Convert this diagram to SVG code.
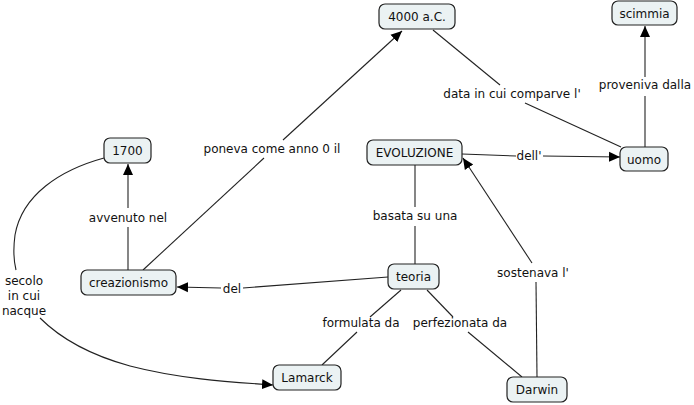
<svg xmlns="http://www.w3.org/2000/svg" width="694" height="405" viewBox="0 0 694 405">
<style>
.node rect{fill:#ebf2f3;stroke:#222;stroke-width:1.2}
text{font-family:"DejaVu Sans","Liberation Sans",sans-serif;font-size:12px;fill:#111;text-anchor:middle}
.conn path{fill:none;stroke:#222;stroke-width:1.1}
</style>
<defs>
<marker id="arr" markerUnits="userSpaceOnUse" markerWidth="12" markerHeight="12" viewBox="0 0 12 12" refX="11" refY="6" orient="auto">
<path d="M0,1 L11,6 L0,11 z" fill="#000"/>
</marker>
</defs>
<rect width="694" height="405" fill="#fff"/>
<g id="connectors" class="conn">
<path d="M143,270 L264,158"/>
<path d="M283,140 L402,31" marker-end="url(#arr)"/>
<path d="M433,30 L500,85"/>
<path d="M525,103 L621,147"/>
<path d="M645,147 L645,96"/>
<path d="M645,77 L645,26" marker-end="url(#arr)"/>
<path d="M462,154 L516,156"/>
<path d="M543,156 L620,157" marker-end="url(#arr)"/>
<path d="M415,165 L415,207"/>
<path d="M415,226 L415,264"/>
<path d="M388,277 L243,288"/>
<path d="M221,288 L177,287" marker-end="url(#arr)"/>
<path d="M401,290 L370,317"/>
<path d="M357,332 L322,365"/>
<path d="M427,290 L453,317"/>
<path d="M468,332 L522,377"/>
<path d="M537,377 L536,282"/>
<path d="M532,263 L463,158" marker-end="url(#arr)"/>
<path d="M128,270 L128,227"/>
<path d="M128,208 L128,164" marker-end="url(#arr)"/>
<path d="M104,158 C60,170 22,195 15,235 C13,250 14,262 16,270"/>
<path d="M40,318 C60,338 90,355 130,366 C180,379 230,382 273,385" marker-end="url(#arr)"/>
<text x="272" y="153">poneva come anno 0 il</text>
<text x="512" y="98">data in cui comparve l'</text>
<text x="645" y="89">proveniva dalla</text>
<text x="529" y="160">dell'</text>
<text x="415" y="220">basata su una</text>
<text x="232" y="293">del</text>
<text x="533" y="277">sostenava l'</text>
<text x="361" y="327">formulata da</text>
<text x="460" y="327">perfezionata da</text>
<text x="128" y="222">avvenuto nel</text>
<text x="24" y="285">secolo</text>
<text x="24" y="300">in cui</text>
<text x="24" y="315">nacque</text>
</g>
<g id="n4000" class="node"><rect x="379" y="4" width="76" height="25" rx="6"/><text x="417" y="21">4000 a.C.</text></g>
<g id="scimmia" class="node"><rect x="612" y="1" width="65" height="24" rx="6"/><text x="644.5" y="18">scimmia</text></g>
<g id="evoluzione" class="node"><rect x="367" y="140" width="95" height="25" rx="6"/><text x="414.5" y="157">EVOLUZIONE</text></g>
<g id="uomo" class="node"><rect x="620" y="147" width="48" height="24" rx="6"/><text x="644" y="164">uomo</text></g>
<g id="n1700" class="node"><rect x="104" y="138" width="47" height="25" rx="6"/><text x="127.5" y="155">1700</text></g>
<g id="creazionismo" class="node"><rect x="81" y="270" width="95" height="25" rx="6"/><text x="128.5" y="287">creazionismo</text></g>
<g id="teoria" class="node"><rect x="388" y="264" width="51" height="25" rx="6"/><text x="413.5" y="281">teoria</text></g>
<g id="lamarck" class="node"><rect x="273" y="365" width="68" height="25" rx="6"/><text x="307" y="382">Lamarck</text></g>
<g id="darwin" class="node"><rect x="507" y="377" width="60" height="25" rx="6"/><text x="537" y="394">Darwin</text></g>
</svg>
